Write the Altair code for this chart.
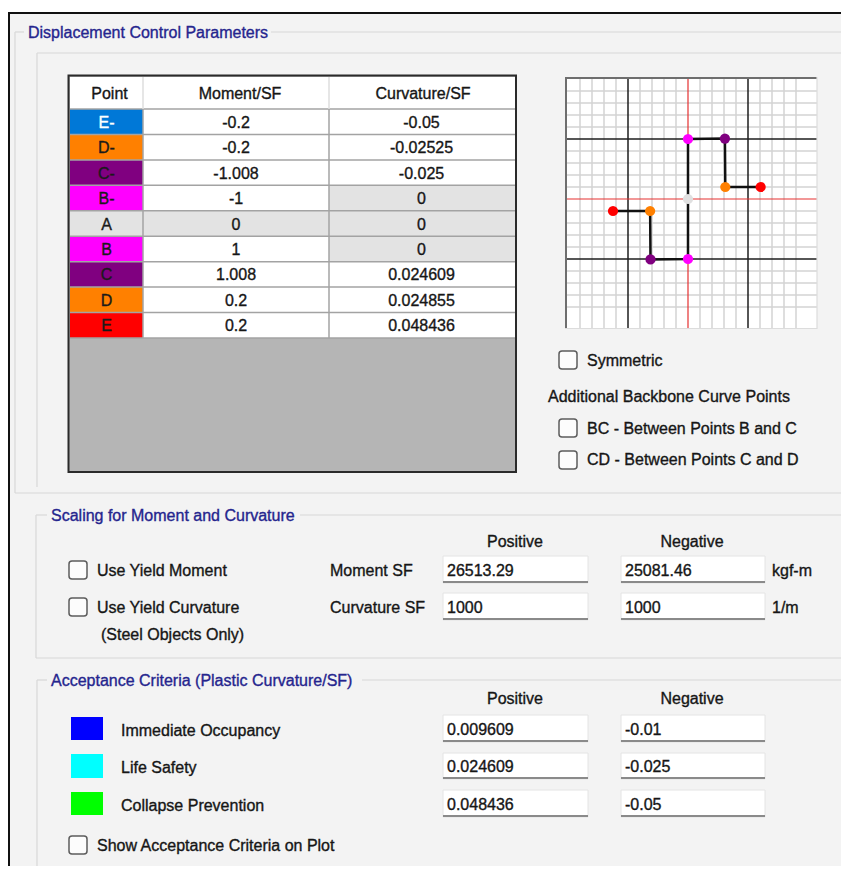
import altair as alt
import pandas as pd

# ---------------- data ----------------
points = ["E-", "D-", "C-", "B-", "A", "B", "C", "D", "E"]
moment_sf = [-0.2, -0.2, -1.008, -1, 0, 1, 1.008, 0.2, 0.2]
curvature_sf = [-0.05, -0.02525, -0.025, 0, 0, 0, 0.024609, 0.024855, 0.048436]
moment_txt = ["-0.2", "-0.2", "-1.008", "-1", "0", "1", "1.008", "0.2", "0.2"]
curv_txt = ["-0.05", "-0.02525", "-0.025", "0", "0", "0", "0.024609", "0.024855", "0.048436"]
point_colors = ["#0078d7", "#ff8000", "#800080", "#ff00ff", "#e3e3e3",
                "#ff00ff", "#800080", "#ff8000", "#ff0000"]
plot_colors = ["#ff0000", "#ff8000", "#800080", "#ff00ff", "#e0e0e0",
               "#ff00ff", "#800080", "#ff8000", "#ff0000"]
point_text_colors = ["#ffffff", "#1a1a1a", "#1a1a1a", "#1a1a1a", "#1a1a1a",
                     "#1a1a1a", "#1a1a1a", "#1a1a1a", "#1a1a1a"]
moment_locked = [False, False, False, False, True, False, False, False, False]
curv_locked = [False, False, False, True, True, True, False, False, False]

scale_labels = ["Moment SF", "Curvature SF"]
scale_pos = ["26513.29", "1000"]
scale_neg = ["25081.46", "1000"]
scale_units = ["kgf-m", "1/m"]

acc_levels = ["Immediate Occupancy", "Life Safety", "Collapse Prevention"]
acc_colors = ["#0000ff", "#00ffff", "#00ff00"]
acc_pos = ["0.009609", "0.024609", "0.048436"]
acc_neg = ["-0.01", "-0.025", "-0.05"]

# ---------------- layout ----------------
W, H = 833, 858
FONT = "Liberation Sans"
NAVY = "#25258e"
INK = "#161616"
GLINE = "#d8d8d8"
TSTROKE = 0.35
TDY = 1  # small vertical nudge for text

PX = alt.Scale(domain=[8, 8 + W], nice=False, zero=False)
PY = alt.Scale(domain=[8 + H, 8], nice=False, zero=False)


def X(f):
    return alt.X(f"{f}:Q", scale=PX, axis=None)


def Y(f):
    return alt.Y(f"{f}:Q", scale=PY, axis=None)


layers = []


def add_rects(rows, **kw):
    df = pd.DataFrame(rows, columns=["x0", "y0", "x1", "y1", "fill"])
    layers.append(alt.Chart(df).mark_rect(**kw).encode(
        x=X("x0"), x2="x1", y=Y("y0"), y2="y1",
        fill=alt.Fill("fill:N", scale=None)))


def add_rules(rows, color, width):
    df = pd.DataFrame(rows, columns=["x0", "y0", "x1", "y1"])
    layers.append(alt.Chart(df).mark_rule(color=color, strokeWidth=width).encode(
        x=X("x0"), x2="x1", y=Y("y0"), y2="y1"))


def add_texts(rows, align="left", color=INK, size=16):
    df = pd.DataFrame(rows, columns=["x", "y", "t"])
    layers.append(alt.Chart(df).mark_text(
        align=align, baseline="middle", font=FONT, fontSize=size, color=color,
        stroke=color, strokeWidth=TSTROKE, dy=TDY
    ).encode(x=X("x"), y=Y("y"), text="t:N"))


def checkbox(x, y):
    return [x, y, x + 18, y + 18, "#fcfcfc"]


def textbox_rows(x0, x1, y0, y1):
    return [x0, y0, x1, y1, "#ffffff"]


# dialog background + frame
add_rects([[8, 12, 860, 880, "#f3f3f3"]])
add_rects([[8, 12, 10, 880, "#111111"], [8, 12, 860, 14, "#111111"]])

# group boxes
add_rules([[15, 32, 24, 32], [271, 32, 860, 32], [15, 32, 15, 493], [15, 493, 860, 493]], GLINE, 1.2)
add_rules([[37, 53, 860, 53], [37, 53, 37, 487]], GLINE, 1.2)
add_rules([[36, 515, 47, 515], [300, 515, 860, 515], [36, 515, 36, 658], [36, 658, 860, 658]], GLINE, 1.2)
add_rules([[37, 680, 47, 680], [362, 680, 860, 680], [37, 680, 37, 880]], GLINE, 1.2)

add_texts([[28, 32, "Displacement Control Parameters"],
           [51, 515, "Scaling for Moment and Curvature"],
           [51, 680, "Acceptance Criteria (Plastic Curvature/SF)"]], color=NAVY)

# ---------------- table ----------------
TX = [70, 143, 329, 515]
HEAD_TOP, HEAD_BOT = 77, 109
ROW_H = (338 - 109) / 9

add_rects([[68.5, 75.5, 516, 472, "#b5b5b5"]], stroke="#2a2a2a", strokeWidth=2)
add_rects([[TX[0], HEAD_TOP, TX[3], HEAD_BOT, "#ffffff"]])

cells = []
for i in range(len(points)):
    y0 = HEAD_BOT + i * ROW_H
    y1 = y0 + ROW_H
    cells.append([TX[0], y0, TX[1], y1, point_colors[i]])
    cells.append([TX[1], y0, TX[2], y1, "#e3e3e3" if moment_locked[i] else "#ffffff"])
    cells.append([TX[2], y0, TX[3], y1, "#e3e3e3" if curv_locked[i] else "#ffffff"])
add_rects(cells)

TB = HEAD_BOT + 9 * ROW_H
hl = [[TX[0], HEAD_BOT + i * ROW_H, TX[3], HEAD_BOT + i * ROW_H] for i in range(10)]
vl = [[TX[1], HEAD_BOT, TX[1], TB], [TX[2], HEAD_BOT, TX[2], TB]]
add_rules(hl + vl, "#a3a3a3", 1.5)
add_rules([[TX[1], HEAD_TOP, TX[1], HEAD_BOT], [TX[2], HEAD_TOP, TX[2], HEAD_BOT]], "#dedede", 1.5)

add_texts([[109.5, 93, "Point"], [240, 93, "Moment/SF"], [423, 93, "Curvature/SF"]], align="center")

lbl = pd.DataFrame({
    "x": [106.5] * 9,
    "y": [HEAD_BOT + (i + 0.5) * ROW_H for i in range(9)],
    "t": points,
    "c": point_text_colors,
})
layers.append(alt.Chart(lbl).mark_text(align="center", baseline="middle", font=FONT, fontSize=16,
                                       strokeWidth=TSTROKE, dy=TDY).encode(
    x=X("x"), y=Y("y"), text="t:N", color=alt.Color("c:N", scale=None),
    stroke=alt.Stroke("c:N", scale=None)))
add_texts([[236, HEAD_BOT + (i + 0.5) * ROW_H, moment_txt[i]] for i in range(9)], align="center")
add_texts([[421.5, HEAD_BOT + (i + 0.5) * ROW_H, curv_txt[i]] for i in range(9)], align="center")

# ---------------- mini backbone plot ----------------
add_rects([[565, 77, 817, 328, "#ffffff"]])

MX = alt.Scale(domain=[-0.082, 0.086], range=[557, 809], nice=False, zero=False)
MY = alt.Scale(domain=[-2.15, 2.0333], range=[320, 69], nice=False, zero=False)
ylo, yhi = -2.15, 2.0333
xlo, xhi = -0.082, 0.086


def grid_layer(vx, hy, color, width):
    dv = pd.DataFrame({"gx": vx, "lo": [ylo] * len(vx), "hi": [yhi] * len(vx)})
    dh = pd.DataFrame({"gy": hy, "lo": [xlo] * len(hy), "hi": [xhi] * len(hy)})
    a = alt.Chart(dv).mark_rule(color=color, strokeWidth=width).encode(
        x=alt.X("gx:Q", scale=MX, axis=None),
        y=alt.Y("lo:Q", scale=MY, axis=None), y2="hi")
    b = alt.Chart(dh).mark_rule(color=color, strokeWidth=width).encode(
        y=alt.Y("gy:Q", scale=MY, axis=None),
        x=alt.X("lo:Q", scale=MX, axis=None), x2="hi")
    return [a, b]


ks = [k for k in range(-9, 10) if k not in (-5, 0, 5)]
layers += grid_layer([k * 0.008 for k in ks], [k * 0.2 for k in ks], "#d3d3d3", 1.5)
layers += grid_layer([-0.04, 0.04], [-1.0, 1.0], "#1e1e1e", 1.5)
layers += grid_layer([0.0], [0.0], "#e53030", 1.2)

add_rules([[566, 77, 566, 328], [565, 78, 817, 78]], "#6e6e6e", 2)
add_rules([[817, 77, 817, 329], [565, 328.5, 817, 328.5]], "#dcdcdc", 1.2)

bb = pd.DataFrame({"point": points, "curv": curvature_sf, "mom": moment_sf,
                   "order": list(range(len(points))), "col": plot_colors})
layers.append(alt.Chart(bb).mark_line(color="#111111", strokeWidth=2.5).encode(
    x=alt.X("curv:Q", scale=MX, axis=None), y=alt.Y("mom:Q", scale=MY, axis=None),
    order="order:Q"))
layers.append(alt.Chart(bb).mark_circle(size=105, opacity=1).encode(
    x=alt.X("curv:Q", scale=MX, axis=None), y=alt.Y("mom:Q", scale=MY, axis=None),
    color=alt.Color("col:N", scale=None)))

# ---------------- right-side options ----------------
add_rects([checkbox(559, 351), checkbox(559, 419), checkbox(559, 451)],
          cornerRadius=3, stroke="#5c5c5c", strokeWidth=1.5)
add_texts([[587, 360, "Symmetric"],
           [548, 396, "Additional Backbone Curve Points"],
           [587, 428, "BC - Between Points B and C"],
           [587, 459, "CD - Between Points C and D"]])

# ---------------- scaling group ----------------
add_rects([checkbox(69, 561), checkbox(69, 598)], cornerRadius=3, stroke="#5c5c5c", strokeWidth=1.5)
add_texts([[97, 570, "Use Yield Moment"], [97, 607, "Use Yield Curvature"],
           [101, 634, "(Steel Objects Only)"]])
add_texts([[330, 570, scale_labels[0]], [330, 607, scale_labels[1]]])
add_texts([[515, 541, "Positive"], [692, 541, "Negative"]], align="center")

sy = [(556, 583), (593, 620)]
add_rects([textbox_rows(443, 588, a, b) for a, b in sy] + [textbox_rows(621, 765, a, b) for a, b in sy],
          stroke="#e4e4e4", strokeWidth=1)
add_rules([[443, b - 1, 588, b - 1] for a, b in sy] + [[621, b - 1, 765, b - 1] for a, b in sy], "#8a8a8a", 2)
add_texts([[447, (a + b) / 2, scale_pos[i]] for i, (a, b) in enumerate(sy)] +
          [[625, (a + b) / 2, scale_neg[i]] for i, (a, b) in enumerate(sy)])
add_texts([[772, 570, scale_units[0]], [772, 607, scale_units[1]]])

# ---------------- acceptance group ----------------
add_texts([[515, 698, "Positive"], [692, 698, "Negative"]], align="center")
ay = [(715, 742), (753, 779), (790, 817)]
sq = [(717, 740), (754, 778), (792, 815)]
add_rects([[71, a, 103, b, acc_colors[i]] for i, (a, b) in enumerate(sq)])
add_texts([[121, (a + b) / 2 + 1, acc_levels[i]] for i, (a, b) in enumerate(sq)])
add_rects([textbox_rows(443, 588, a, b) for a, b in ay] + [textbox_rows(621, 765, a, b) for a, b in ay],
          stroke="#e4e4e4", strokeWidth=1)
add_rules([[443, b - 1, 588, b - 1] for a, b in ay] + [[621, b - 1, 765, b - 1] for a, b in ay], "#8a8a8a", 2)
add_texts([[447, (a + b) / 2, acc_pos[i]] for i, (a, b) in enumerate(ay)] +
          [[625, (a + b) / 2, acc_neg[i]] for i, (a, b) in enumerate(ay)])
add_rects([checkbox(69, 836)], cornerRadius=3, stroke="#5c5c5c", strokeWidth=1.5)
add_texts([[97, 845, "Show Acceptance Criteria on Plot"]])

chart = alt.layer(*layers).resolve_scale(x="independent", y="independent").properties(
    width=W, height=H, padding=0,
    autosize=alt.AutoSizeParams(type="none"),
    background="#ffffff",
).configure_view(stroke=None)

chart.save("out.html", embed_options={"renderer": "svg", "actions": False})
